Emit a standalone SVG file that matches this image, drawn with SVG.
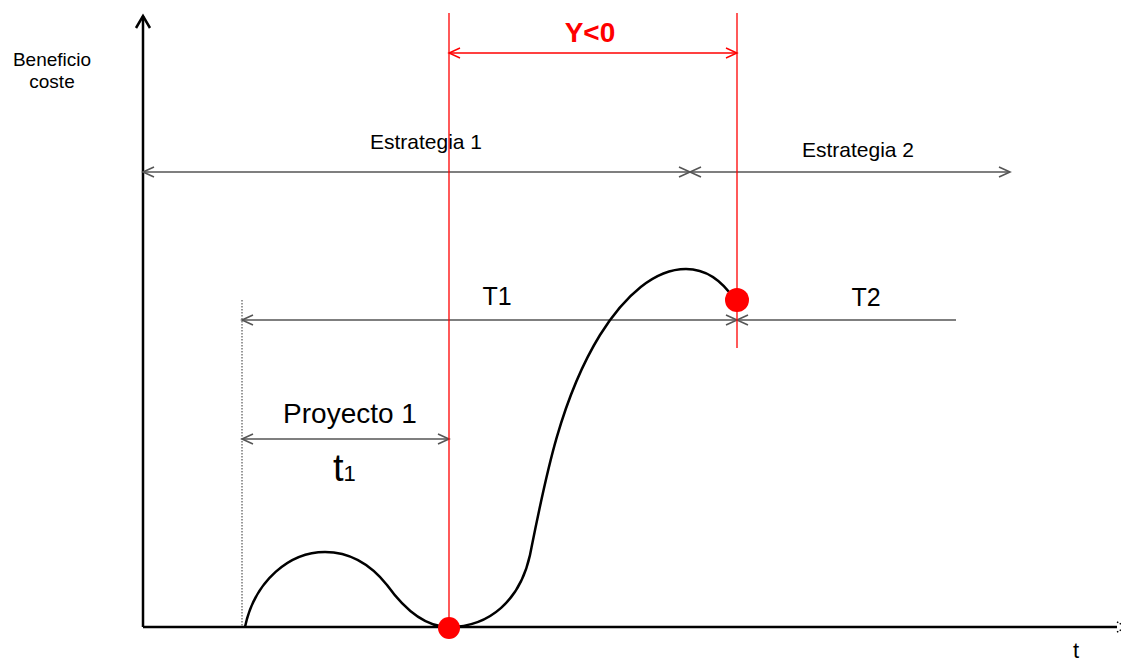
<svg xmlns="http://www.w3.org/2000/svg" width="1121" height="661" viewBox="0 0 1121 661">
<style>
text{font-family:"Liberation Sans",Arial,sans-serif;fill:#000}
.dim{stroke:#555;stroke-width:1.6;fill:none}
.red{stroke:#f00;stroke-width:1.3;fill:none}
.ax{stroke:#000;stroke-width:2.5;fill:none}
</style>
<defs>
<marker id="ah" markerWidth="14" markerHeight="12" refX="12" refY="6" orient="auto-start-reverse" markerUnits="userSpaceOnUse">
<path d="M1,1 L12,6 L1,11" fill="none" stroke="#555" stroke-width="1.6"/>
</marker>
<marker id="ahr" markerWidth="14" markerHeight="12" refX="12" refY="6" orient="auto-start-reverse" markerUnits="userSpaceOnUse">
<path d="M1,1 L12,6 L1,11" fill="none" stroke="#f00" stroke-width="1.4"/>
</marker>
</defs>
<rect width="1121" height="661" fill="#fff"/>
<g id="axes">
<line class="ax" x1="143" y1="627" x2="143" y2="16"/>
<path class="ax" d="M136,28 L143,16 L150,28"/>
<line class="ax" x1="143" y1="627" x2="1117" y2="627"/>
<path d="M1117,622 L1121,624 M1117,632 L1121,630" stroke="#000" stroke-width="1.5" stroke-dasharray="1.5,1.5"/>
<text x="52" y="66" font-size="19" text-anchor="middle">Beneficio</text>
<text x="52" y="88" font-size="19" text-anchor="middle">coste</text>
<text x="1076" y="658" font-size="22" text-anchor="middle">t</text>
</g>
<g id="connectors">
<line x1="242" y1="300" x2="242" y2="627" stroke="#333" stroke-width="1" stroke-dasharray="1.5,1.5"/>
<line class="dim" x1="143" y1="172" x2="690" y2="172" marker-start="url(#ah)" marker-end="url(#ah)"/>
<line class="dim" x1="690" y1="172" x2="1010" y2="172" marker-start="url(#ah)" marker-end="url(#ah)"/>
<line class="dim" x1="242" y1="320" x2="737" y2="320" marker-start="url(#ah)" marker-end="url(#ah)"/>
<line class="dim" x1="737" y1="320" x2="956" y2="320" marker-start="url(#ah)"/>
<line class="dim" x1="242" y1="439" x2="449" y2="439" marker-start="url(#ah)" marker-end="url(#ah)"/>
<line class="red" x1="449" y1="13" x2="449" y2="627"/>
<line class="red" x1="737" y1="13" x2="737" y2="348"/>
<line class="red" x1="449" y1="53" x2="737" y2="53" marker-start="url(#ahr)" marker-end="url(#ahr)"/>
</g>
<g id="curve">
<path d="M245,627 C255,580 290,552 325,552 C355,552 375,570 387,585 C405,610 425,627 449,627 C490,627 520,600 530,555 C545,480 560,400 600,335 C625,295 655,269 686,269 C710,269 725,285 735,300" fill="none" stroke="#000" stroke-width="2.5"/>
</g>
<g id="dot1"><circle cx="449" cy="628" r="11" fill="#f00"/></g>
<g id="dot2"><circle cx="737" cy="300" r="12" fill="#f00"/></g>
<g id="labels">
<text x="590" y="42" font-size="28" font-weight="bold" style="fill:#f00" text-anchor="middle">Y&lt;0</text>
<text x="426" y="149" font-size="21" text-anchor="middle">Estrategia 1</text>
<text x="858" y="157" font-size="21" text-anchor="middle">Estrategia 2</text>
<text x="497" y="305" font-size="25" text-anchor="middle">T1</text>
<text x="866" y="306" font-size="25" text-anchor="middle">T2</text>
<text x="350" y="423" font-size="28" text-anchor="middle">Proyecto 1</text>
<text x="333" y="481" font-size="38">t<tspan font-size="22">1</tspan></text>
</g>
</svg>
